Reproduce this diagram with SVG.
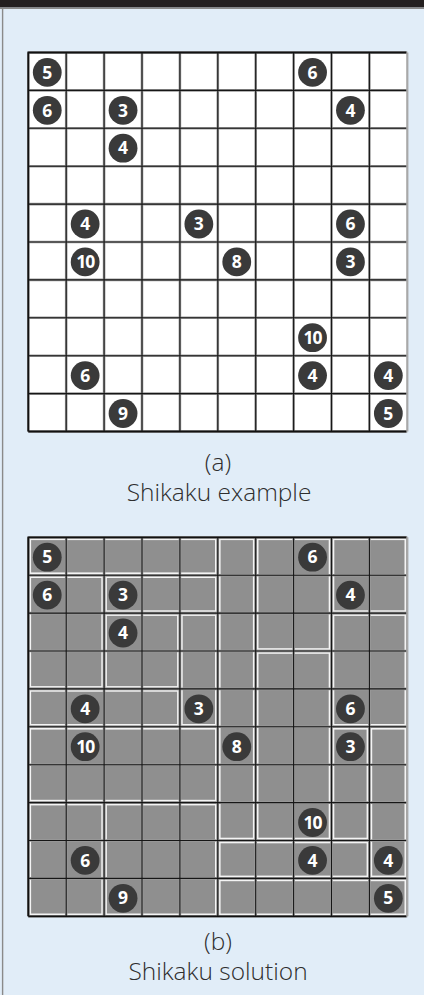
<svg xmlns="http://www.w3.org/2000/svg" xmlns:xlink="http://www.w3.org/1999/xlink" width="424" height="995" viewBox="0 0 424 995">
<style>
.gl{stroke:#9a9a9a;stroke-width:2.6;fill:none}
.gk{stroke:#161616;stroke-width:1.1;fill:none}
.reg{fill:none;stroke:#f4f4f4;stroke-width:1.6}
.clue circle{fill:#3a3a3a}
.clue text{fill:#ffffff;font-family:"Open Sans","DejaVu Sans",sans-serif;font-weight:700;font-size:17.5px;text-anchor:middle}
.cap{fill:#2e2e2e;font-family:"Open Sans","Liberation Sans",sans-serif;font-weight:300;font-size:24.5px;text-anchor:middle}
</style>
<defs>
<g id="lines">
<path class="gl" d="M0 0V379M37.9 0V379M75.8 0V379M113.7 0V379M151.6 0V379M189.5 0V379M227.4 0V379M265.3 0V379M303.2 0V379M341.1 0V379M0 0H379M0 37.9H379M0 75.8H379M0 113.7H379M0 151.6H379M0 189.5H379M0 227.4H379M0 265.3H379M0 303.2H379M0 341.1H379M0 379H379"/>
<path class="gk" d="M37.9 0V379M75.8 0V379M113.7 0V379M151.6 0V379M189.5 0V379M227.4 0V379M265.3 0V379M303.2 0V379M341.1 0V379M0 37.9H379M0 75.8H379M0 113.7H379M0 151.6H379M0 189.5H379M0 227.4H379M0 265.3H379M0 303.2H379M0 341.1H379"/>
<path d="M379 0V379" stroke="#a8a8a8" stroke-width="2.2"/>
<path d="M0 379V0H378" stroke="#111" stroke-width="1.8" fill="none"/>
<path d="M0 379H378" stroke="#111" stroke-width="1.8"/>
</g>
<g id="clues" class="clue">
<circle cx="18.95" cy="19.9" r="14.4"/><text x="18.95" y="26.1">5</text>
<circle cx="284.25" cy="19.9" r="14.4"/><text x="284.25" y="26.1">6</text>
<circle cx="18.95" cy="57.8" r="14.4"/><text x="18.95" y="64">6</text>
<circle cx="94.75" cy="57.8" r="14.4"/><text x="94.75" y="64">3</text>
<circle cx="322.15" cy="57.8" r="14.4"/><text x="322.15" y="64">4</text>
<circle cx="94.75" cy="95.7" r="14.4"/><text x="94.75" y="101.9">4</text>
<circle cx="56.85" cy="171.5" r="14.4"/><text x="56.85" y="177.7">4</text>
<circle cx="170.55" cy="171.5" r="14.4"/><text x="170.55" y="177.7">3</text>
<circle cx="322.15" cy="171.5" r="14.4"/><text x="322.15" y="177.7">6</text>
<circle cx="56.85" cy="209.4" r="14.4"/><text x="56.85" y="215.6" letter-spacing="-1">10</text>
<circle cx="208.45" cy="209.4" r="14.4"/><text x="208.45" y="215.6">8</text>
<circle cx="322.15" cy="209.4" r="14.4"/><text x="322.15" y="215.6">3</text>
<circle cx="284.25" cy="285.2" r="14.4"/><text x="284.25" y="291.4" letter-spacing="-1">10</text>
<circle cx="56.85" cy="323.1" r="14.4"/><text x="56.85" y="329.3">6</text>
<circle cx="284.25" cy="323.1" r="14.4"/><text x="284.25" y="329.3">4</text>
<circle cx="360.05" cy="323.1" r="14.4"/><text x="360.05" y="329.3">4</text>
<circle cx="94.75" cy="361" r="14.4"/><text x="94.75" y="367.2">9</text>
<circle cx="360.05" cy="361" r="14.4"/><text x="360.05" y="367.2">5</text>
</g>
</defs>
<rect x="0" y="0" width="424" height="995" fill="#e1edf8"/>
<rect x="0" y="0" width="424" height="7.5" fill="#231f20"/>
<path d="M0 8.2H424" stroke="#8a8a8a" stroke-width="1.4"/>
<path d="M2.6 8V995" stroke="#8a8a8a" stroke-width="1.4"/>

<g id="puzzle-a" transform="translate(28.3,52.5)">
<rect x="0" y="0" width="379" height="379" fill="#ffffff"/>
<use xlink:href="#lines" href="#lines"/>
<use xlink:href="#clues" href="#clues"/>
</g>
<text class="cap" x="218" y="470.5">(a)</text>
<text class="cap" x="219" y="500.5">Shikaku example</text>

<g id="puzzle-b" transform="translate(28.3,537.3)">
<rect x="0" y="0" width="379" height="379" fill="#8f8f8f"/>
<g id="regions">
<rect class="reg" x="2" y="2" width="185.5" height="33.9"/>
<rect class="reg" x="2" y="39.9" width="71.8" height="109.7"/>
<rect class="reg" x="77.8" y="39.9" width="109.7" height="33.9"/>
<rect class="reg" x="77.8" y="77.8" width="71.8" height="71.8"/>
<rect class="reg" x="153.6" y="77.8" width="33.9" height="109.7"/>
<rect class="reg" x="2" y="153.6" width="147.6" height="33.9"/>
<rect class="reg" x="2" y="191.5" width="185.5" height="71.8"/>
<rect class="reg" x="2" y="267.3" width="71.8" height="109.7"/>
<rect class="reg" x="77.8" y="267.3" width="109.7" height="109.7"/>
<rect class="reg" x="191.5" y="2" width="33.9" height="299.2"/>
<rect class="reg" x="229.4" y="2" width="71.8" height="109.7"/>
<rect class="reg" x="229.4" y="115.7" width="71.8" height="185.5"/>
<rect class="reg" x="305.2" y="2" width="71.8" height="71.8"/>
<rect class="reg" x="305.2" y="77.8" width="71.8" height="109.7"/>
<rect class="reg" x="305.2" y="191.5" width="33.9" height="109.7"/>
<rect class="reg" x="343.1" y="191.5" width="33.9" height="147.6"/>
<rect class="reg" x="191.5" y="305.2" width="147.6" height="33.9"/>
<rect class="reg" x="191.5" y="343.1" width="185.5" height="33.9"/>
</g>
<use xlink:href="#lines" href="#lines"/>
<use xlink:href="#clues" href="#clues"/>
</g>
<text class="cap" x="218" y="950">(b)</text>
<text class="cap" x="218" y="980">Shikaku solution</text>
</svg>
